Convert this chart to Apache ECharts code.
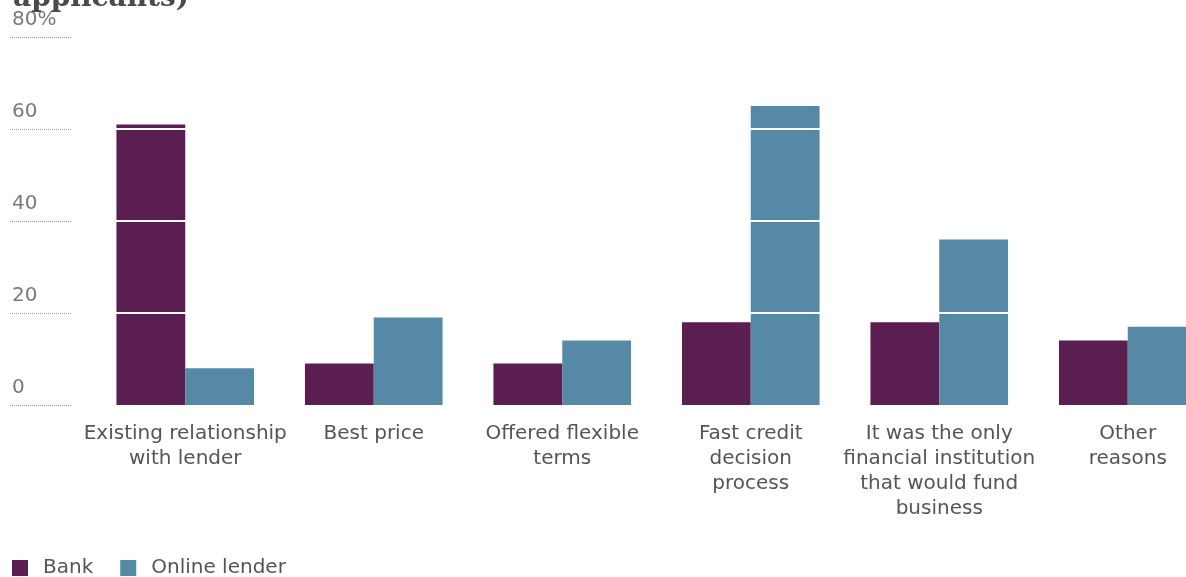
<!DOCTYPE html>
<html>
<head>
<meta charset="utf-8">
<style>
  html, body { margin: 0; padding: 0; background: #fff; }
  #chart { width: 1186px; height: 577px; }
</style>
<script src="https://cdn.jsdelivr.net/npm/echarts@6/dist/echarts.min.js"></script>
</head>
<body>
<div id="chart"></div>
<script>
// Reasons for choosing a lender, share of applicants (%)
const categories = [
  'Existing relationship\nwith lender',
  'Best price',
  'Offered flexible\nterms',
  'Fast credit\ndecision\nprocess',
  'It was the only\nfinancial institution\nthat would fund\nbusiness',
  'Other\nreasons'
];
const bankValues = [61, 9, 9, 18, 18, 14];
const onlineValues = [8, 19, 14, 65, 36, 17];
const gridValues = [20, 40, 60];

const chart = echarts.init(document.getElementById('chart'));
const font = 'DejaVu Sans, sans-serif';

chart.setOption({
  animation: false,
  backgroundColor: '#fff',
  title: {
    text: 'applicants)',
    left: 8,
    top: -20,
    textStyle: { fontFamily: 'DejaVu Serif', fontWeight: 'bold', fontSize: 28, color: '#4a4a4a' }
  },
  legend: {
    left: 12,
    top: 558,
    padding: 0,
    itemWidth: 16,
    itemHeight: 16,
    itemGap: 27,
    icon: 'rect',
    textStyle: { fontFamily: font, fontSize: 20, color: '#555', padding: [0, 0, 0, 10] },
    data: ['Bank', 'Online lender']
  },
  grid: [
    { left: 10, width: 62, top: 37, height: 368, outerBoundsMode: 'none' },
    { left: 91, width: 1131, top: 37, height: 368, outerBoundsMode: 'none' }
  ],
  xAxis: [
    { gridIndex: 0, type: 'category', data: [''], show: false },
    {
      gridIndex: 1,
      type: 'category',
      data: categories,
      axisLine: { show: false },
      axisTick: { show: false },
      axisLabel: { interval: 0, margin: 16, fontFamily: font, fontSize: 20, lineHeight: 25, color: '#555' }
    }
  ],
  yAxis: [
    {
      gridIndex: 0,
      type: 'value',
      min: 0, max: 80, interval: 20,
      axisLine: { show: false },
      axisTick: { show: false },
      splitLine: { lineStyle: { color: '#9a9a9a', type: [1, 1], width: 1 } },
      axisLabel: {
        inside: true,
        margin: 2,
        verticalAlign: 'bottom',
        padding: [0, 0, 7, 0],
        fontFamily: font, fontSize: 20, color: '#7a7a7a',
        formatter: v => (v === 80 ? '80%' : String(v))
      }
    },
    {
      gridIndex: 1,
      type: 'value',
      min: 0, max: 80, interval: 20,
      show: false,
      splitLine: { show: false }
    }
  ],
  series: [
    {
      name: 'Bank',
      type: 'bar',
      xAxisIndex: 1, yAxisIndex: 1,
      data: bankValues,
      barGap: '0%',
      barCategoryGap: '27%',
      itemStyle: { color: '#5a1e50' },
      markLine: {
        silent: true,
        symbol: 'none',
        z: 10,
        label: { show: false },
        lineStyle: { color: '#ffffff', type: 'solid', width: 2 },
        data: gridValues.map(v => ({ yAxis: v }))
      }
    },
    {
      name: 'Online lender',
      type: 'bar',
      xAxisIndex: 1, yAxisIndex: 1,
      data: onlineValues,
      itemStyle: { color: '#5589a6' }
    }
  ]
});
</script>
</body>
</html>
